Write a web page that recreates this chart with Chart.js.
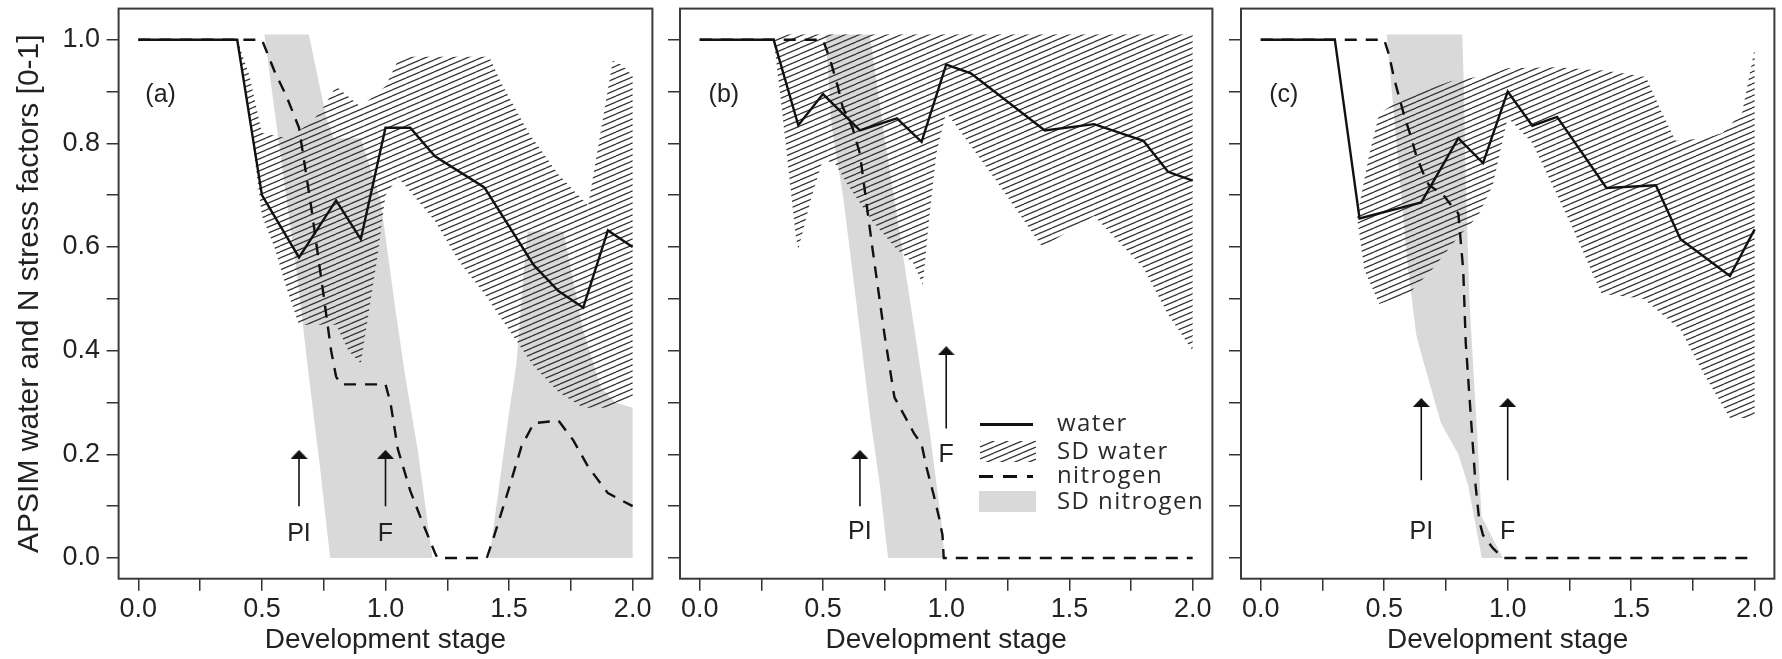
<!DOCTYPE html>
<html><head><meta charset="utf-8">
<script src="https://cdn.jsdelivr.net/npm/chart.js@4.4.1/dist/chart.umd.min.js"></script>
<style>
html,body{margin:0;padding:0;background:#fff;}
body{width:1782px;height:659px;position:relative;overflow:hidden;}
canvas.panel{position:absolute;top:0;}
.lg{position:absolute;}
.lg-text{position:absolute;font-family:"Open Sans",sans-serif;font-size:24px;line-height:24px;letter-spacing:1.4px;color:#2a2a2a;white-space:nowrap;}
</style></head><body>
<canvas class="panel" id="ca" width="660" height="659" style="left:0px"></canvas>
<canvas class="panel" id="cb" width="560" height="659" style="left:660px"></canvas>
<canvas class="panel" id="cc" width="562" height="659" style="left:1220px"></canvas>

<div class="lg" style="left:980px;top:423px;width:53px;height:3px;background:#111;"></div>
<canvas class="lg" id="lgHatch" width="56" height="21" style="left:980px;top:441px;"></canvas>
<div class="lg" style="left:979px;top:474.5px;width:54px;height:3px;background:repeating-linear-gradient(90deg,#111 0px,#111 14px,transparent 14px,transparent 24px);"></div>
<div class="lg" style="left:979px;top:491px;width:57px;height:21px;background:#d9d9d9;"></div>
<div class="lg-text" style="left:1057px;top:410px;">water</div>
<div class="lg-text" style="left:1057px;top:438px;">SD water</div>
<div class="lg-text" style="left:1057px;top:462px;">nitrogen</div>
<div class="lg-text" style="left:1057px;top:488px;">SD nitrogen</div>

<script>
// ---------- tick values / labels ----------
const X_TICKS = [0, 0.25, 0.5, 0.75, 1.0, 1.25, 1.5, 1.75, 2.0];
const X_TICK_LABELS = ['0.0', '', '0.5', '', '1.0', '', '1.5', '', '2.0'];
const Y_TICKS = [0, 0.1, 0.2, 0.3, 0.4, 0.5, 0.6, 0.7, 0.8, 0.9, 1.0];
const Y_TICK_LABELS = ['0.0', '', '0.2', '', '0.4', '', '0.6', '', '0.8', '', '1.0'];

// ---------- panel (a) ----------
const waterA_x = [0, 0.4, 0.5, 0.65, 0.8, 0.9, 1.0, 1.1, 1.2, 1.4, 1.6, 1.7, 1.8, 1.9, 2.0];
const waterA_y = [1, 1, 0.70, 0.58, 0.69, 0.615, 0.83, 0.83, 0.775, 0.715, 0.565, 0.515, 0.483, 0.632, 0.60];
const nitroA_x = [0, 0.5, 0.55, 0.6, 0.65, 0.7, 0.75, 0.78, 0.8, 0.82, 1.0, 1.02, 1.05, 1.1, 1.15, 1.2, 1.21, 1.41, 1.44, 1.5, 1.55, 1.6, 1.7, 1.76, 1.82, 1.9, 2.0];
const nitroA_y = [1, 1, 0.94, 0.89, 0.83, 0.675, 0.505, 0.40, 0.35, 0.335, 0.335, 0.30, 0.21, 0.13, 0.068, 0.01, 0, 0, 0.043, 0.135, 0.215, 0.26, 0.265, 0.227, 0.176, 0.125, 0.10];
const sdWaterA_upX = [0.4, 0.45, 0.5, 0.6, 0.7, 0.75, 0.8, 0.9, 1.0, 1.05, 1.1, 1.42, 1.47, 1.58, 1.7, 1.82, 1.92, 1.96, 2.0];
const sdWaterA_upY = [1.0, 0.93, 0.82, 0.81, 0.84, 0.87, 0.91, 0.87, 0.91, 0.96, 0.967, 0.967, 0.915, 0.82, 0.74, 0.68, 0.96, 0.95, 0.93];
const sdWaterA_loX = [0.4, 0.45, 0.5, 0.55, 0.6, 0.65, 0.8, 0.85, 0.9, 0.97, 1.0, 1.05, 1.2, 1.3, 1.4, 1.5, 1.6, 1.7, 1.8, 1.9, 2.0];
const sdWaterA_loY = [1.0, 0.85, 0.66, 0.60, 0.52, 0.45, 0.45, 0.40, 0.375, 0.59, 0.70, 0.735, 0.65, 0.57, 0.51, 0.44, 0.37, 0.32, 0.29, 0.29, 0.31];
const sdNitroA1_upX = [0.51, 0.69, 0.76, 0.79, 0.90, 0.98, 1.04, 1.08, 1.13, 1.19];
const sdNitroA1_upY = [1.01, 1.01, 0.85, 0.81, 0.81, 0.69, 0.48, 0.35, 0.21, 0];
const sdNitroA1_loX = [0.51, 0.58, 0.64, 0.69, 0.735, 0.776];
const sdNitroA1_loY = [1.01, 0.76, 0.555, 0.35, 0.175, 0];
const sdNitroA2_upX = [1.42, 1.46, 1.50, 1.53, 1.56, 1.575, 1.72, 1.80, 1.87, 1.93, 2.0];
const sdNitroA2_upY = [0, 0.14, 0.28, 0.375, 0.555, 0.63, 0.63, 0.44, 0.33, 0.30, 0.29];
const sdNitroA2_loX = [1.42, 2.0];
const sdNitroA2_loY = [0, 0];
const arrowsA_x = [0.65, 1.0];
const arrowsA_from = [0.10, 0.10];
const arrowsA_to = [0.20, 0.20];
const arrowsA_labelY = [0.047, 0.047];

// ---------- panel (b) ----------
const waterB_x = [0, 0.3, 0.4, 0.5, 0.65, 0.8, 0.9, 1.0, 1.1, 1.4, 1.6, 1.8, 1.9, 2.0];
const waterB_y = [1, 1, 0.835, 0.895, 0.825, 0.848, 0.803, 0.952, 0.935, 0.825, 0.837, 0.805, 0.745, 0.728];
const nitroB_x = [0, 0.5, 0.53, 0.56, 0.58, 0.62, 0.65, 0.7, 0.75, 0.79, 0.83, 0.87, 0.9, 0.92, 0.95, 0.97, 0.985, 0.99, 2.0];
const nitroB_y = [1, 1, 0.96, 0.91, 0.87, 0.83, 0.78, 0.60, 0.43, 0.31, 0.275, 0.24, 0.22, 0.175, 0.12, 0.08, 0.044, 0, 0];
const sdWaterB_upX = [0.3, 0.32, 2.0];
const sdWaterB_upY = [1.0, 1.01, 1.01];
const sdWaterB_loX = [0.3, 0.33, 0.36, 0.39, 0.40, 0.45, 0.5, 0.55, 0.6, 0.7, 0.8, 0.865, 0.905, 0.93, 0.96, 1.0, 1.2, 1.39, 1.6, 1.8, 1.9, 2.0];
const sdWaterB_loY = [1.0, 0.88, 0.75, 0.62, 0.595, 0.69, 0.77, 0.76, 0.72, 0.65, 0.595, 0.57, 0.527, 0.65, 0.78, 0.86, 0.73, 0.60, 0.66, 0.56, 0.47, 0.40];
const sdNitroB_upX = [0.51, 0.69, 0.744, 0.812, 0.879, 0.933, 0.98, 0.993];
const sdNitroB_upY = [1.01, 1.01, 0.83, 0.624, 0.416, 0.244, 0.071, 0];
const sdNitroB_loX = [0.51, 0.536, 0.583, 0.637, 0.69, 0.731, 0.764];
const sdNitroB_loY = [1.01, 0.83, 0.693, 0.486, 0.278, 0.14, 0];
const arrowsB_x = [0.65, 1.0];
const arrowsB_from = [0.10, 0.25];
const arrowsB_to = [0.20, 0.40];
const arrowsB_labelY = [0.05, 0.198];

// ---------- panel (c) ----------
const waterC_x = [0, 0.3, 0.4, 0.65, 0.8, 0.9, 1.0, 1.1, 1.2, 1.4, 1.6, 1.7, 1.9, 2.0];
const waterC_y = [1, 1, 0.655, 0.686, 0.81, 0.762, 0.90, 0.834, 0.851, 0.714, 0.719, 0.615, 0.544, 0.634];
const nitroC_x = [0, 0.5, 0.52, 0.54, 0.56, 0.58, 0.61, 0.63, 0.66, 0.68, 0.74, 0.78, 0.80, 0.82, 0.83, 0.85, 0.87, 0.885, 0.9, 0.94, 0.98, 2.0];
const nitroC_y = [1, 1, 0.97, 0.925, 0.89, 0.855, 0.81, 0.776, 0.74, 0.72, 0.70, 0.675, 0.665, 0.555, 0.416, 0.278, 0.14, 0.071, 0.044, 0.019, 0, 0];
const sdWaterC_upX = [0.39, 0.44, 0.48, 0.58, 0.77, 0.9, 1.0, 1.2, 1.4, 1.56, 1.62, 1.68, 1.8, 1.87, 1.95, 2.0];
const sdWaterC_upY = [0.657, 0.78, 0.857, 0.889, 0.92, 0.93, 0.945, 0.947, 0.94, 0.928, 0.864, 0.805, 0.81, 0.82, 0.86, 0.983];
const sdWaterC_loX = [0.39, 0.42, 0.48, 0.6, 0.7, 0.8, 0.88, 0.94, 1.0, 1.1, 1.25, 1.38, 1.55, 1.65, 1.7, 1.8, 1.9, 2.0];
const sdWaterC_loY = [0.657, 0.555, 0.49, 0.51, 0.56, 0.62, 0.66, 0.72, 0.85, 0.80, 0.65, 0.51, 0.50, 0.46, 0.44, 0.35, 0.27, 0.27];
const sdNitroC_upX = [0.51, 0.816, 0.823, 0.83, 0.845, 0.863, 0.878, 0.894, 0.98];
const sdNitroC_upY = [1.01, 1.01, 0.90, 0.727, 0.50, 0.347, 0.227, 0.08, 0];
const sdNitroC_loX = [0.51, 0.557, 0.597, 0.63, 0.655, 0.73, 0.80, 0.84, 0.895];
const sdNitroC_loY = [1.01, 0.762, 0.555, 0.43, 0.385, 0.26, 0.20, 0.14, 0];
const arrowsC_x = [0.65, 1.0];
const arrowsC_from = [0.15, 0.15];
const arrowsC_to = [0.30, 0.30];
const arrowsC_labelY = [0.05, 0.05];

const ARROW_LABELS = ['PI', 'F'];
const PANEL_LABELS = ['(a)', '(b)', '(c)'];
const Y_TITLE = 'APSIM water and N stress factors [0-1]';
const X_TITLE = 'Development stage';

// ---------- helpers ----------
function pts(xs, ys) { return xs.map((x, i) => ({x: x, y: ys[i]})); }
function band(ux, uy, lx, ly) { return pts(ux, uy).concat(pts(lx, ly).reverse()); }

function hatchTile() {
  const c = document.createElement('canvas');
  c.width = 14; c.height = 6;
  const g = c.getContext('2d');
  g.strokeStyle = '#333'; g.lineWidth = 1.25;
  for (const dy of [-6, 0, 6]) { g.beginPath(); g.moveTo(0, 6 + dy); g.lineTo(14, dy); g.stroke(); }
  return c;
}
const tile = hatchTile();
function hatchPattern(ctx) { return ctx.createPattern(tile, 'repeat'); }

function arrowHead() {
  const c = document.createElement('canvas');
  c.width = 17; c.height = 9;
  const g = c.getContext('2d');
  g.fillStyle = '#111';
  g.beginPath(); g.moveTo(0, 9); g.lineTo(8.5, 0); g.lineTo(17, 9); g.closePath(); g.fill();
  return c;
}
const HEAD = arrowHead();

// legend hatch swatch
(function () {
  const c = document.getElementById('lgHatch');
  const g = c.getContext('2d');
  g.fillStyle = g.createPattern(tile, 'repeat');
  g.fillRect(0, 0, c.width, c.height);
})();

Chart.defaults.font.family = '"Liberation Sans", Arial, sans-serif';
Chart.defaults.color = '#222';

const framePlugin = {
  id: 'frame',
  afterDraw(chart) {
    const {ctx, chartArea: a} = chart;
    ctx.save();
    ctx.strokeStyle = '#3a3a3a'; ctx.lineWidth = 2;
    ctx.strokeRect(a.left, a.top, a.right - a.left, a.bottom - a.top);
    ctx.restore();
  }
};
function textPlugin(items) {
  return {
    id: 'txt',
    afterDatasetsDraw(chart) {
      const {ctx, scales: {x, y}} = chart;
      ctx.save();
      ctx.fillStyle = '#222'; ctx.textAlign = 'center'; ctx.textBaseline = 'middle';
      for (const t of items) {
        ctx.font = t.size + 'px "Liberation Sans", Arial, sans-serif';
        ctx.fillText(t.text, x.getPixelForValue(t.x), y.getPixelForValue(t.y));
      }
      ctx.restore();
    }
  };
}

function makePanel(canvasId, p) {
  const ctx = document.getElementById(canvasId).getContext('2d');
  const pat = hatchPattern(ctx);
  const datasets = [];
  datasets.push({data: pts(p.waterX, p.waterY), borderColor: '#111', borderWidth: 2.4, pointRadius: 0, fill: false, order: 0});
  datasets.push({data: pts(p.nitroX, p.nitroY), borderColor: '#111', borderWidth: 2.4, borderDash: [12, 9], pointRadius: 0, fill: false, order: 0});
  p.arrowsX.forEach((ax, i) => {
    datasets.push({data: [{x: ax, y: p.arrowsFrom[i]}, {x: ax, y: p.arrowsTo[i]}], borderColor: '#111', borderWidth: 1.6,
      pointRadius: [0, 6], pointStyle: HEAD, fill: false, order: 0});
  });
  datasets.push({data: p.sdWater, fill: 'shape', backgroundColor: pat, borderWidth: 0, borderColor: 'transparent', pointRadius: 0, order: 1});
  p.sdNitro.forEach(poly => {
    datasets.push({data: poly, fill: 'shape', backgroundColor: '#d9d9d9', borderWidth: 0, borderColor: 'transparent', pointRadius: 0, order: 2});
  });
  const texts = [{text: p.label, x: p.labelX, y: 0.893, size: 25}];
  p.arrowsX.forEach((ax, i) => texts.push({text: ARROW_LABELS[i], x: ax, y: p.labelsY[i], size: 25}));

  const gridOpts = {display: true, drawOnChartArea: false, drawTicks: true, tickLength: 12, color: '#333', lineWidth: 1.5};
  return new Chart(ctx, {
    type: 'line',
    data: {datasets: datasets},
    plugins: [framePlugin, textPlugin(texts)],
    options: {
      responsive: false, animation: false, devicePixelRatio: 1,
      layout: {padding: {left: 0, right: p.padRight, top: 8.6, bottom: 0}},
      plugins: {legend: {display: false}, tooltip: {enabled: false}},
      elements: {line: {tension: 0}},
      scales: {
        x: {
          type: 'linear', min: -0.08, max: 2.08,
          afterBuildTicks: s => { s.ticks = X_TICKS.map(v => ({value: v})); },
          afterFit: s => { s.height = 80.3; s.paddingLeft = 0; s.paddingRight = 0; },
          grid: gridOpts, border: {display: false},
          ticks: {autoSkip: false, maxRotation: 0, padding: 3, font: {size: 27}, color: '#222', callback: (v, i) => X_TICK_LABELS[i]},
          title: {display: true, text: X_TITLE, font: {size: 28}, color: '#222', padding: {top: 0, bottom: 2.2}}
        },
        y: {
          type: 'linear', min: -0.04, max: 1.06,
          afterBuildTicks: s => { s.ticks = Y_TICKS.map(v => ({value: v})); },
          afterFit: s => { s.width = p.yWidth; s.paddingTop = 0; s.paddingBottom = 0; },
          grid: gridOpts, border: {display: false},
          ticks: {display: p.showY, autoSkip: false, padding: 6.5, font: {size: 27}, color: '#222', callback: (v, i) => Y_TICK_LABELS[i]},
          title: {display: p.showY, text: Y_TITLE, font: {size: 30}, color: '#222', padding: {top: 12, bottom: 0}}
        }
      }
    }
  });
}

makePanel('ca', {
  waterX: waterA_x, waterY: waterA_y, nitroX: nitroA_x, nitroY: nitroA_y,
  sdWater: band(sdWaterA_upX, sdWaterA_upY, sdWaterA_loX, sdWaterA_loY),
  sdNitro: [band(sdNitroA1_upX, sdNitroA1_upY, sdNitroA1_loX, sdNitroA1_loY), band(sdNitroA2_upX, sdNitroA2_upY, sdNitroA2_loX, sdNitroA2_loY)],
  arrowsX: arrowsA_x, arrowsFrom: arrowsA_from, arrowsTo: arrowsA_to, labelsY: arrowsA_labelY,
  label: PANEL_LABELS[0], labelX: 0.09, showY: true, yWidth: 118.6, padRight: 6.6
});
makePanel('cb', {
  waterX: waterB_x, waterY: waterB_y, nitroX: nitroB_x, nitroY: nitroB_y,
  sdWater: band(sdWaterB_upX, sdWaterB_upY, sdWaterB_loX, sdWaterB_loY),
  sdNitro: [band(sdNitroB_upX, sdNitroB_upY, sdNitroB_loX, sdNitroB_loY)],
  arrowsX: arrowsB_x, arrowsFrom: arrowsB_from, arrowsTo: arrowsB_to, labelsY: arrowsB_labelY,
  label: PANEL_LABELS[1], labelX: 0.098, showY: false, yWidth: 20, padRight: 5.2
});
makePanel('cc', {
  waterX: waterC_x, waterY: waterC_y, nitroX: nitroC_x, nitroY: nitroC_y,
  sdWater: band(sdWaterC_upX, sdWaterC_upY, sdWaterC_loX, sdWaterC_loY),
  sdNitro: [band(sdNitroC_upX, sdNitroC_upY, sdNitroC_loX, sdNitroC_loY)],
  arrowsX: arrowsC_x, arrowsFrom: arrowsC_from, arrowsTo: arrowsC_to, labelsY: arrowsC_labelY,
  label: PANEL_LABELS[2], labelX: 0.093, showY: false, yWidth: 21, padRight: 6.2
});
</script>
</body></html>
